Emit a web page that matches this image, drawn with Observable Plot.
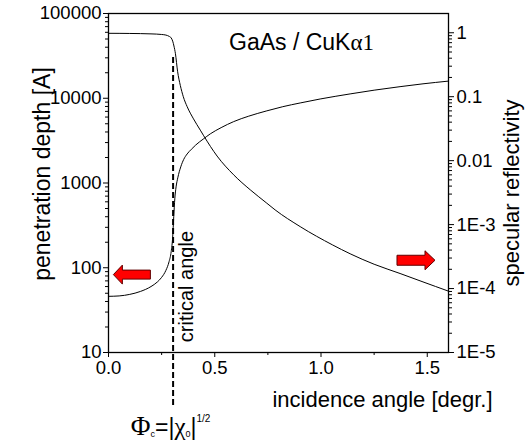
<!DOCTYPE html>
<html><head><meta charset="utf-8">
<script src="https://cdn.jsdelivr.net/npm/d3@7"></script>
<script src="https://cdn.jsdelivr.net/npm/@observablehq/plot@0.6"></script>
<style>
body{margin:0;background:#fff;}
#wrap{position:relative;width:532px;height:447px;background:#fff;}
#wrap svg{position:absolute;left:0;top:0;}
</style></head><body><div id="wrap"></div>
<script>
// ---- data ----
const depthAngle = [0, 0.05, 0.10, 0.15, 0.20, 0.23, 0.25, 0.27, 0.285, 0.295, 0.302, 0.307, 0.312, 0.318, 0.326, 0.340, 0.354, 0.37, 0.39, 0.41, 0.446, 0.479, 0.53, 0.589, 0.66, 0.745, 0.82, 0.902, 0.996, 1.137, 1.25, 1.372, 1.48, 1.596];
const depth = [46, 46.5, 48.5, 52.5, 60, 68, 77, 93, 118, 155, 230, 400, 650, 900, 1150, 1550, 1900, 2200, 2500, 2800, 3300, 3800, 4500, 5300, 6150, 7100, 7950, 8800, 9800, 11250, 12450, 13700, 14800, 15900];
const reflAngle = [0, 0.1, 0.2, 0.25, 0.27, 0.285, 0.295, 0.302, 0.308, 0.315, 0.325, 0.338, 0.352, 0.370, 0.40, 0.432, 0.448, 0.511, 0.589, 0.667, 0.742, 0.784, 0.902, 1.055, 1.137, 1.25, 1.372, 1.48, 1.596];
const reflectivity = [0.98, 0.975, 0.96, 0.94, 0.92, 0.88, 0.83, 0.74, 0.62, 0.47, 0.25, 0.15, 0.10, 0.07, 0.045, 0.030, 0.0245, 0.0118, 0.0060, 0.0035, 0.0022, 0.0017, 9.3e-4, 4.8e-4, 3.5e-4, 2.4e-4, 1.72e-4, 1.27e-4, 9.2e-5];

const depthTicks = [10, 100, 1000, 10000, 100000];
const depthTickLabels = ["10", "100", "1000", "10000", "100000"];
const reflTicks = [1, 0.1, 0.01, 0.001, 0.0001, 0.00001];
const reflTickLabels = ["1", "0.1", "0.01", "1E-3", "1E-4", "1E-5"];
const angleTicks = [0, 0.5, 1.0, 1.5];
const angleTickLabels = ["0.0", "0.5", "1.0", "1.5"];
const angleMinorTicks = [0.25, 0.75, 1.25];
const criticalAngle = 0.304;
const criticalLineDepth = [2.37, 31900];   // dashed line extent (depth units)
const criticalLabelDepth = 60;
const leftArrow = [{a: 0.11, v: 83}];
const rightArrow = [{a: 1.447, v: 2.77e-4}];

const minorLog = (decades) => decades.flatMap(d => [2,3,4,5,6,7,8,9].map(k => d * k));
const depthMinor = minorLog([10, 100, 1000, 10000]);
const reflMinor = minorLog([1e-5, 1e-4, 1e-3, 1e-2, 1e-1]);

const depthData = depthAngle.map((a, i) => ({a, v: depth[i]}));
const reflData = reflAngle.map((a, i) => ({a, v: reflectivity[i]}));

// ---- layout ----
const W = 532, H = 447, mL = 108, mR = 84, mT = 13, mB = 95;
const font = "'Liberation Sans', Arial, Helvetica, sans-serif";
const serif = "'Liberation Serif', 'Times New Roman', serif";

const arrowLeftSymbol = {draw(c) {
  c.moveTo(-18.5, 0); c.lineTo(-9.5, -9.5); c.lineTo(-9.5, -4.5); c.lineTo(18.5, -4.5);
  c.lineTo(18.5, 4.5); c.lineTo(-9.5, 4.5); c.lineTo(-9.5, 9.5); c.closePath();
}};
const arrowRightSymbol = {draw(c) {
  c.moveTo(19, 0); c.lineTo(9, -9.5); c.lineTo(9, -5); c.lineTo(-19, -5);
  c.lineTo(-19, 5); c.lineTo(9, 5); c.lineTo(9, 9.5); c.closePath();
}};

const common = {
  width: W, height: H, marginLeft: mL, marginRight: mR, marginTop: mT, marginBottom: mB,
  style: {fontFamily: font, background: "transparent", color: "black", overflow: "visible"},
};

const p1 = Plot.plot({
  ...common,
  x: {domain: [0, 1.6]},
  y: {type: "log", domain: [10, 1e5]},
  marks: [
    Plot.axisY(depthTicks, {anchor: "left", tickSize: 5, tickPadding: 2, fontSize: 18.5,
      tickFormat: d => depthTickLabels[depthTicks.indexOf(d)], label: null}),
    Plot.axisY(depthMinor, {anchor: "left", tickSize: 3, fill: "none", label: null}),
    Plot.axisX(angleTicks, {anchor: "bottom", tickSize: 5, tickPadding: 3, fontSize: 18.5,
      tickFormat: d => angleTickLabels[angleTicks.indexOf(d)], label: null}),
    Plot.axisX(angleMinorTicks, {anchor: "bottom", tickSize: 3, fill: "none", label: null}),
    Plot.line(depthData, {x: "a", y: "v", stroke: "black", strokeWidth: 1, curve: "monotone-x"}),
    Plot.ruleX([criticalAngle], {y1: criticalLineDepth[0], y2: criticalLineDepth[1],
      stroke: "black", strokeWidth: 2, strokeDasharray: "6,3"}),
    Plot.text([{a: criticalAngle, v: criticalLabelDepth, t: "critical angle"}],
      {x: "a", y: "v", text: "t", rotate: -90, textAnchor: "middle", lineAnchor: "bottom",
       dx: 20, fontSize: 20, fill: "black"}),
    Plot.dot(leftArrow, {x: "a", y: "v", symbol: arrowLeftSymbol, r: 1,
      fill: "#ff0000", stroke: "#600000", strokeWidth: 1}),
    Plot.text(["penetration depth [A]"], {frameAnchor: "left", rotate: -90, textAnchor: "middle",
      lineAnchor: "bottom", dx: -59, dy: -9, fontSize: 23, fill: "black"}),
    Plot.text(["incidence angle [degr.]"], {frameAnchor: "bottom", textAnchor: "middle",
      lineAnchor: "bottom", dx: 104, dy: 54, fontSize: 22, fill: "black"}),
    Plot.frame({stroke: "black", strokeWidth: 1.3}),
  ]
});

const p2 = Plot.plot({
  ...common,
  x: {domain: [0, 1.6], axis: null},
  y: {type: "log", domain: [1e-5, 2]},
  marks: [
    Plot.axisY(reflTicks, {anchor: "right", tickSize: 5, tickPadding: 3, fontSize: 18.5,
      tickFormat: d => reflTickLabels[reflTicks.indexOf(d)], label: null}),
    Plot.axisY(reflMinor, {anchor: "right", tickSize: 3, fill: "none", label: null}),
    Plot.line(reflData, {x: "a", y: "v", stroke: "black", strokeWidth: 1, curve: "monotone-x"}),
    Plot.dot(rightArrow, {x: "a", y: "v", symbol: arrowRightSymbol, r: 1,
      fill: "#ff0000", stroke: "#600000", strokeWidth: 1}),
    Plot.text(["specular reflectivity"], {frameAnchor: "right", rotate: -90, textAnchor: "middle",
      lineAnchor: "bottom", dx: 70, dy: 10, fontSize: 22, fill: "black"}),
  ]
});

const wrap = document.getElementById("wrap");
wrap.appendChild(p1);
wrap.appendChild(p2);

// title and formula annotations (mixed fonts via tspans)
const s1 = d3.select(p1);
const title = s1.append("text").attr("x", 229).attr("y", 50).attr("text-anchor", "start")
  .attr("font-size", 23).attr("font-family", font).attr("fill", "black");
title.append("tspan").text("GaAs / CuK");
title.append("tspan").attr("font-family", serif).text("α1");

const cx = p1.scale("x").apply(criticalAngle);
const phi = s1.append("text").attr("x", cx - 2).attr("y", 435).attr("text-anchor", "middle")
  .attr("font-size", 23).attr("font-family", font).attr("fill", "black");
phi.append("tspan").attr("font-family", serif).attr("font-size", 27).text("Φ");
phi.append("tspan").attr("font-size", 9).attr("dy", 2).text("c");
phi.append("tspan").attr("dy", -2).text("=|");
phi.append("tspan").attr("font-family", serif).attr("font-size", 25).text("χ");
phi.append("tspan").attr("font-size", 9).attr("dy", 2).text("0");
phi.append("tspan").attr("dy", -2).text("|");
phi.append("tspan").attr("font-size", 10).attr("dy", -13).text("1/2");
</script></body></html>
